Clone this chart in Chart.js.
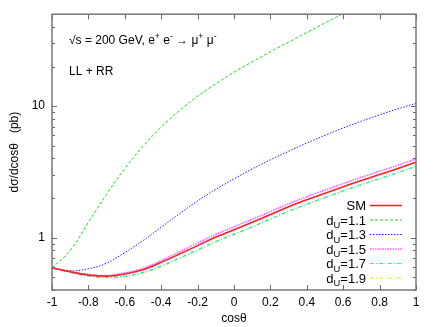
<!DOCTYPE html>
<html>
<head>
<meta charset="utf-8">
<script src="https://cdn.jsdelivr.net/npm/chart.js@4"></script>
<style>
  body { margin: 0; background: #fff; }
</style>
</head>
<body>
<canvas id="c" width="436" height="327"></canvas>
<script>
// values (pb), cos(theta) from -1 to 1
const cosTheta = [-1, -0.9, -0.8, -0.7, -0.6, -0.5, -0.4, -0.3, -0.2, -0.1, 0,
                  0.1, 0.2, 0.3, 0.4, 0.5, 0.6, 0.7, 0.8, 0.9, 1];
const sm   = [0.59, 0.55, 0.52, 0.51, 0.53, 0.57, 0.65, 0.75, 0.87, 1.01, 1.15,
              1.31, 1.50, 1.72, 1.94, 2.18, 2.44, 2.72, 3.02, 3.35, 3.75];
const dU11 = [0.59, 0.80, 1.31, 2.14, 3.35, 4.95, 6.93, 9.25, 11.9, 14.8, 18.1,
              21.7, 25.9, 30.7, 36.3, 42.9, 50.5, 59.3, 69.7, 81.7, 95.5];
const dU13 = [0.59, 0.56, 0.58, 0.64, 0.77, 0.95, 1.20, 1.52, 1.90, 2.33, 2.80,
              3.33, 3.91, 4.54, 5.24, 6.0, 6.82, 7.69, 8.59, 9.53, 10.5];
const dU15 = [0.59, 0.55, 0.525, 0.515, 0.54, 0.585, 0.67, 0.78, 0.91, 1.06, 1.21,
              1.38, 1.58, 1.81, 2.05, 2.30, 2.58, 2.88, 3.20, 3.55, 3.98];
const dU17 = [0.59, 0.545, 0.51, 0.50, 0.51, 0.545, 0.61, 0.70, 0.81, 0.935, 1.065,
              1.21, 1.39, 1.59, 1.80, 2.02, 2.27, 2.53, 2.81, 3.12, 3.50];
const dU19 = [0.59, 0.545, 0.51, 0.495, 0.505, 0.54, 0.605, 0.695, 0.80, 0.925, 1.055,
              1.20, 1.38, 1.58, 1.79, 2.01, 2.26, 2.52, 2.80, 3.11, 3.49];

const seriesNames = ['SM', '1.1', '1.3', '1.5', '1.7', '1.9'];
const xTicks = [-1, -0.8, -0.6, -0.4, -0.2, 0, 0.2, 0.4, 0.6, 0.8, 1];
const yLabelTicks = [1, 10];
const yMinorTicks = [0.4, 0.5, 0.6, 0.7, 0.8, 0.9, 1, 2, 3, 4, 5, 6, 7, 8, 9, 10, 20, 30, 40, 50];

const FONT = '"Liberation Sans", Arial, Helvetica, sans-serif';

function pts(vals) {
    return cosTheta.map((c, i) => ({ x: c, y: vals[i] }));
}

function line(vals, color, width, dash) {
    return {
        data: pts(vals),
        borderColor: color,
        borderWidth: width,
        borderDash: dash,
        pointRadius: 0,
        tension: 0.4,
        fill: false
    };
}

// draw text made of plain / superscript / subscript pieces
function richWidth(ctx, parts, size) {
    let w = 0;
    parts.forEach(p => {
        ctx.font = (p[1] ? size * 0.72 : size) + 'px ' + FONT;
        w += ctx.measureText(p[0]).width;
    });
    return w;
}
function drawRich(ctx, parts, x, y, size) {
    parts.forEach(p => {
        const s = p[1] ? size * 0.72 : size;
        ctx.font = s + 'px ' + FONT;
        const dy = p[1] === 1 ? -size * 0.4 : p[1] === -1 ? size * 0.3 : 0;
        ctx.fillText(p[0], x, y + dy);
        x += ctx.measureText(p[0]).width;
    });
}

const decor = {
    id: 'decor',
    afterDraw(chart) {
        const { ctx, chartArea: a, scales: { x, y } } = chart;
        ctx.save();

        // inward ticks on all four sides
        ctx.strokeStyle = '#666';
        ctx.lineWidth = 1;
        ctx.beginPath();
        xTicks.forEach(v => {
            const px = Math.round(x.getPixelForValue(v)) + 0.5;
            ctx.moveTo(px, a.bottom); ctx.lineTo(px, a.bottom - 5);
            ctx.moveTo(px, a.top); ctx.lineTo(px, a.top + 5);
        });
        yMinorTicks.forEach(v => {
            const len = yLabelTicks.includes(v) ? 5 : 3;
            const py = Math.round(y.getPixelForValue(v)) + 0.5;
            ctx.moveTo(a.left, py); ctx.lineTo(a.left + len, py);
            ctx.moveTo(a.right, py); ctx.lineTo(a.right - len, py);
        });
        ctx.stroke();

        // frame
        ctx.strokeStyle = '#777';
        ctx.lineWidth = 1.5;
        ctx.strokeRect(a.left, a.top, a.right - a.left, a.bottom - a.top);

        // labels inside the plot
        ctx.fillStyle = '#000';
        ctx.textBaseline = 'alphabetic';
        ctx.textAlign = 'left';
        drawRich(ctx, [['\u221As = 200 GeV, e', 0], ['+', 1], [' e', 0], ['-', 1],
                       [' \u2192 \u03BC', 0], ['+', 1], [' \u03BC', 0], ['-', 1]],
                 a.left + 17, a.top + 30, 12);
        drawRich(ctx, [['LL + RR', 0]], a.left + 17, a.top + 61, 12);

        // legend, bottom right
        const textRight = a.right - 50;
        chart.data.datasets.forEach((ds, i) => {
            const rowY = a.bottom - 85 + i * 14.5;
            const parts = i === 0 ? [['SM', 0]] : [['d', 0], ['U', -1], ['=' + seriesNames[i], 0]];
            const w = richWidth(ctx, parts, 13);
            ctx.fillStyle = '#000';
            drawRich(ctx, parts, textRight - w, rowY + 5, 13);
            ctx.strokeStyle = ds.borderColor;
            ctx.lineWidth = ds.borderWidth;
            ctx.setLineDash(ds.borderDash || []);
            ctx.beginPath();
            ctx.moveTo(textRight + 4, rowY + 0.5);
            ctx.lineTo(textRight + 36, rowY + 0.5);
            ctx.stroke();
            ctx.setLineDash([]);
        });
        ctx.restore();
    }
};

new Chart(document.getElementById('c'), {
    type: 'line',
    data: {
        datasets: [
            line(sm,   '#ff2020', 1.6, []),
            line(dU11, '#20d820', 1, [3, 2]),
            line(dU13, '#2020ff', 1, [1.5, 1.5]),
            line(dU15, '#ff60ff', 1.6, [1.5, 1]),
            line(dU17, '#20e8e8', 1.2, [4, 2, 1, 2]),
            line(dU19, '#e8e800', 1.2, [4, 2, 1, 2])
        ]
    },
    options: {
        responsive: false,
        animation: false,
        events: [],
        layout: { padding: { top: 14, right: 20, left: 0, bottom: 0 } },
        plugins: { legend: { display: false }, tooltip: { enabled: false } },
        scales: {
            x: {
                type: 'linear',
                min: -1, max: 1,
                afterBuildTicks: s => { s.ticks = xTicks.map(v => ({ value: v })); },
                afterFit: s => { s.height = 37; },
                grid: { display: false, drawTicks: false },
                border: { display: false },
                ticks: {
                    padding: 5,
                    color: '#000',
                    font: { family: FONT, size: 12 },
                    callback: v => String(v)
                },
                title: {
                    display: true,
                    text: 'cos\u03B8',
                    color: '#000',
                    font: { family: FONT, size: 12 },
                    padding: { top: 0, bottom: 1 }
                }
            },
            y: {
                type: 'logarithmic',
                min: 0.4, max: 50,
                afterBuildTicks: s => { s.ticks = yLabelTicks.map(v => ({ value: v })); },
                afterFit: s => { s.width = 52; },
                grid: { display: false, drawTicks: false },
                border: { display: false },
                ticks: {
                    padding: 7,
                    color: '#000',
                    font: { family: FONT, size: 12 },
                    callback: v => String(v)
                },
                title: {
                    display: true,
                    text: 'd\u03C3/dcos\u03B8   (pb)',
                    color: '#000',
                    font: { family: FONT, size: 12 },
                    padding: { top: 7, bottom: 0 }
                }
            }
        }
    },
    plugins: [decor]
});
</script>
</body>
</html>
